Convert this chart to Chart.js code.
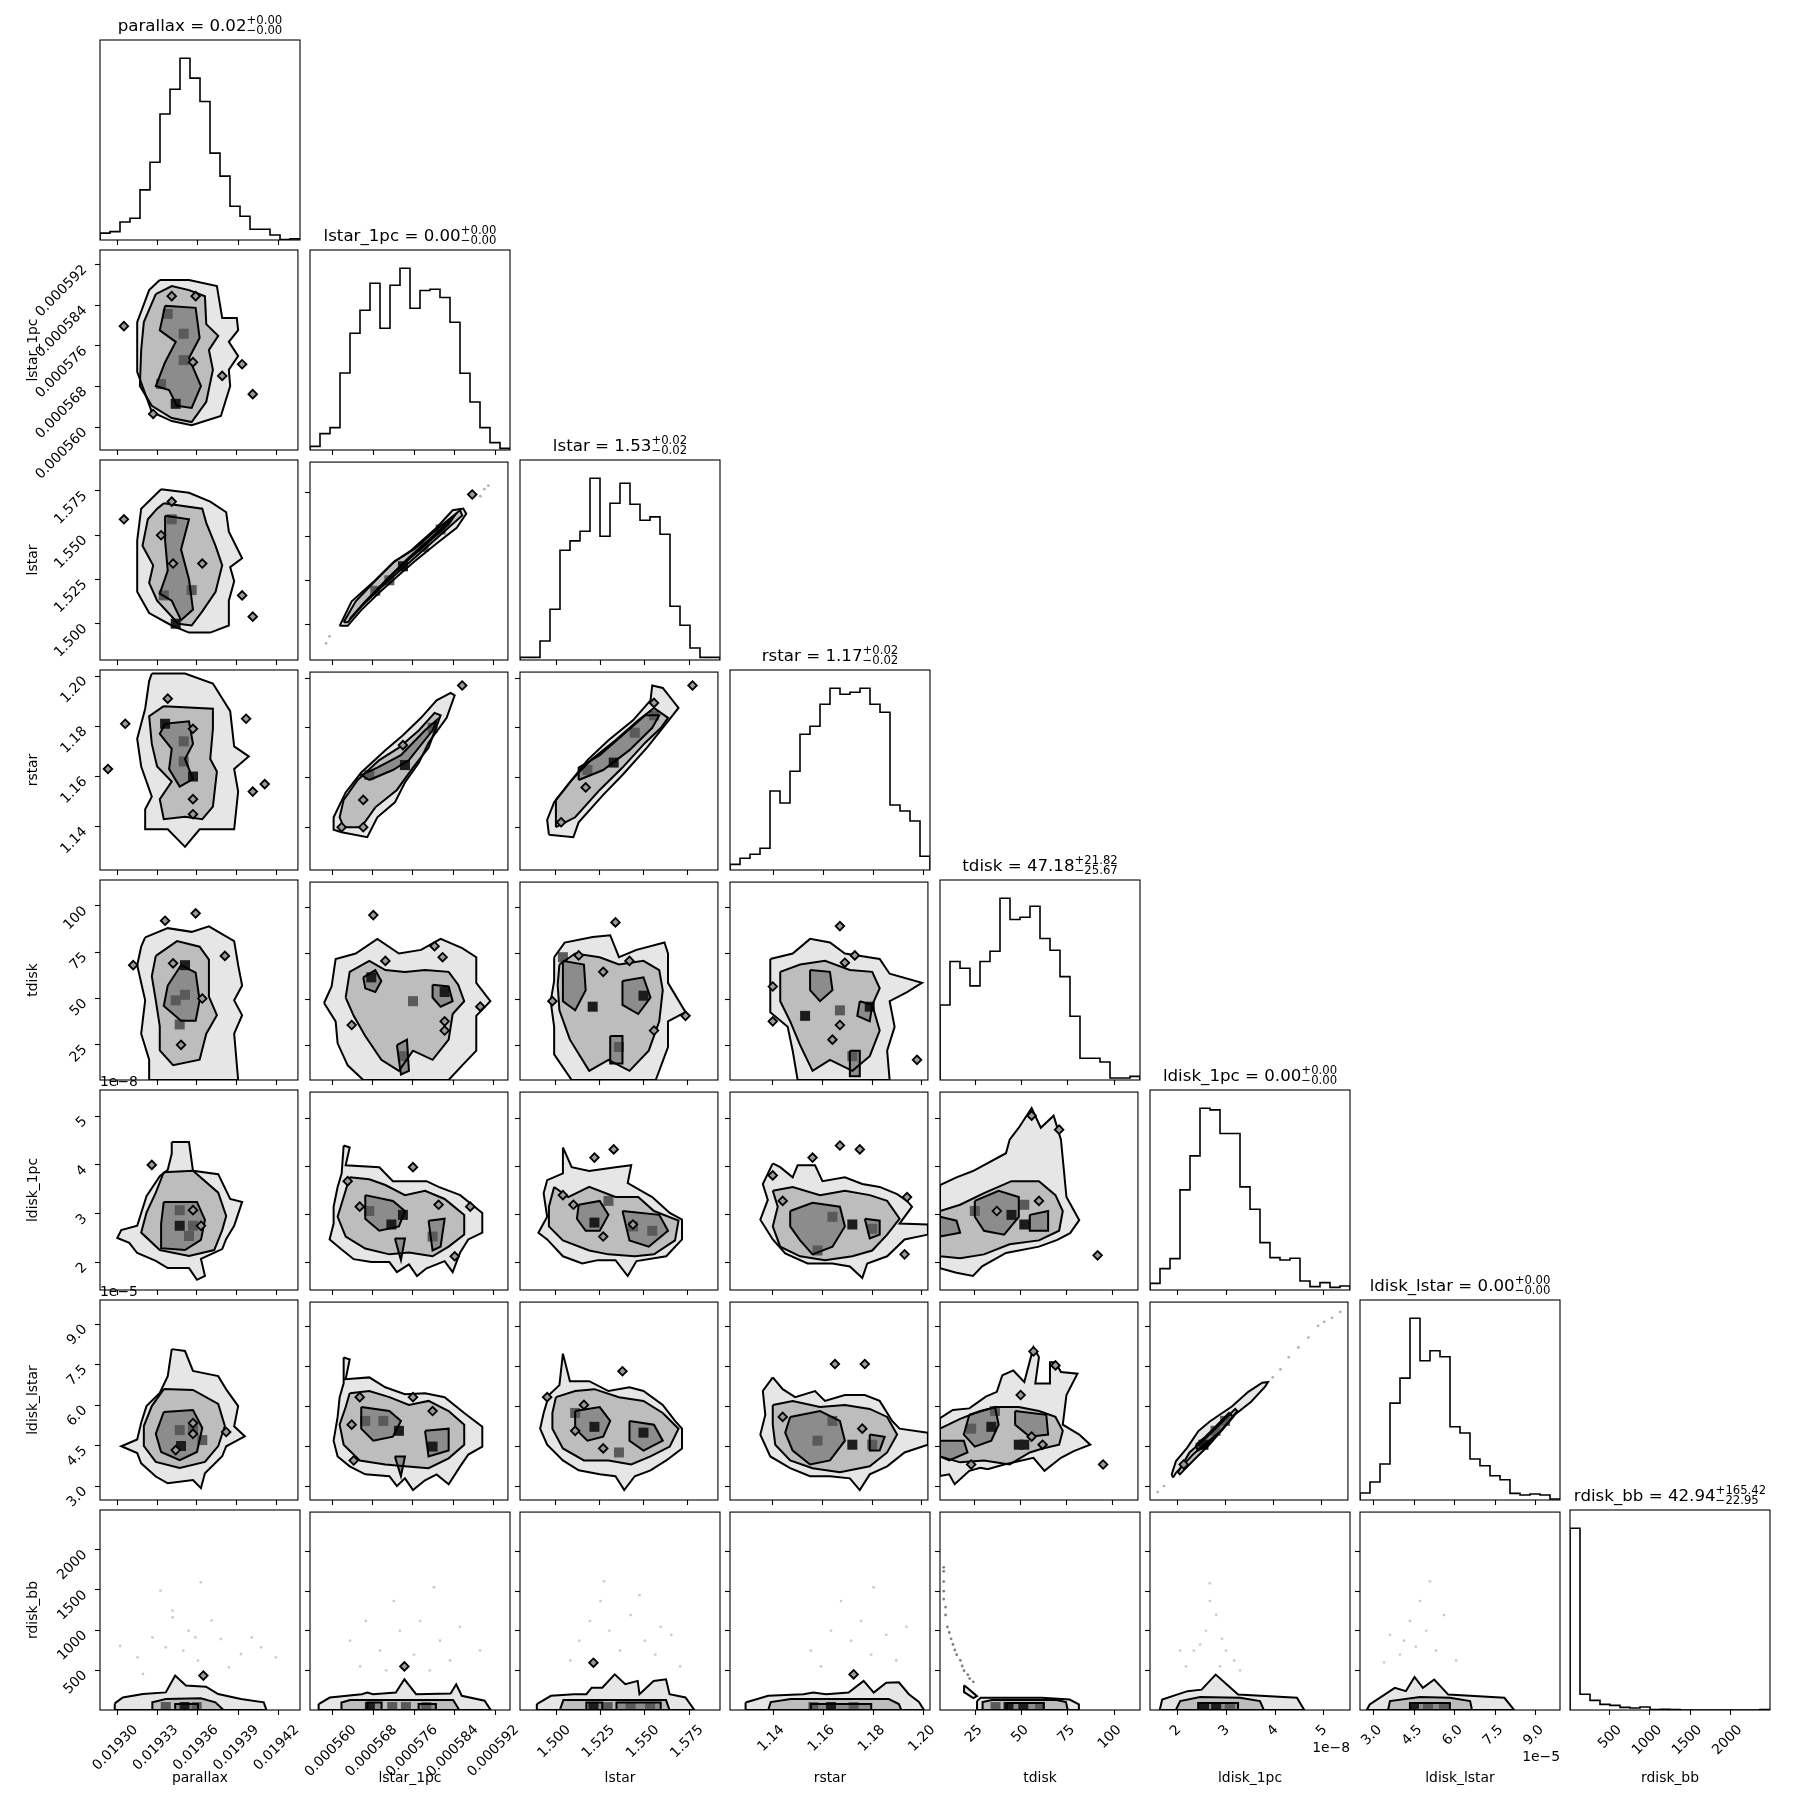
<!DOCTYPE html>
<html><head><meta charset="utf-8">
<script src="https://cdn.jsdelivr.net/npm/chart.js@4.4.1/dist/chart.umd.min.js"></script>
<style>
html,body{margin:0;padding:0;background:#fff;}
#fig{position:relative;width:1809px;height:1809px;overflow:hidden;background:#fff;font-family:'DejaVu Sans',sans-serif;color:#000;}
#fig canvas{position:absolute;}
.ttl{position:absolute;white-space:nowrap;font-size:16.67px;line-height:20px;transform:translateX(-50%);}
.ss{position:relative;font-size:11.67px;}
.sup{position:relative;top:-6.7px;}
.sub{position:absolute;left:0;top:3.6px;line-height:normal;}
.off{position:absolute;white-space:nowrap;font-size:13.9px;line-height:16px;}
</style></head><body><div id="fig"></div>
<script>
// ---------------- DATA ----------------
const variables = ['parallax','lstar_1pc','lstar','rstar','tdisk','ldisk_1pc','ldisk_lstar','rdisk_bb'];
const axisMin = [0.019287, 5.555e-4, 1.4795, 1.1228, 6, 1.43e-8, 2.49e-5, 5];
const axisMax = [0.019436, 5.949e-4, 1.5925, 1.2024, 114, 5.54e-8, 9.90e-5, 2495];
const tickValues = [
  [0.0193, 0.01933, 0.01936, 0.01939, 0.01942],
  [0.00056, 0.000568, 0.000576, 0.000584, 0.000592],
  [1.5, 1.525, 1.55, 1.575],
  [1.14, 1.16, 1.18, 1.20],
  [25, 50, 75, 100],
  [2e-8, 3e-8, 4e-8, 5e-8],
  [3e-5, 4.5e-5, 6e-5, 7.5e-5, 9e-5],
  [500, 1000, 1500, 2000]
];
const tickLabels = [
  ['0.01930','0.01933','0.01936','0.01939','0.01942'],
  ['0.000560','0.000568','0.000576','0.000584','0.000592'],
  ['1.500','1.525','1.550','1.575'],
  ['1.14','1.16','1.18','1.20'],
  ['25','50','75','100'],
  ['2','3','4','5'],
  ['3.0','4.5','6.0','7.5','9.0'],
  ['500','1000','1500','2000']
];
const offsetLabels = ['', '', '', '', '', '1e\u22128', '1e\u22125', ''];
const titleCentral = ['0.02','0.00','1.53','1.17','47.18','0.00','0.00','42.94'];
const titlePlus   = ['0.00','0.00','0.02','0.02','21.82','0.00','0.00','165.42'];
const titleMinus  = ['0.00','0.00','0.02','0.02','25.67','0.00','0.00','22.95'];

// histogram counts (20 bins over each axis range)
const histParallax   = [18,22,47,57,131,203,329,394,475,423,362,227,167,88,62,28,28,13,1,3];
const histLstar1pc   = [11,49,67,231,350,419,500,365,494,545,425,478,482,457,383,230,144,67,22,5];
const histLstar      = [8,8,57,152,329,357,386,545,371,470,530,467,419,429,377,161,104,36,8,8];
const histRstar      = [17,35,47,65,237,201,296,407,431,497,545,527,533,545,497,473,195,177,147,41];
const histTdisk      = [225,355,335,282,355,386,545,481,488,521,424,389,310,191,65,65,54,6,6,11];
const histLdisk1pc   = [20,64,94,300,402,545,540,469,469,309,242,142,97,90,95,27,10,22,8,12];
const histLdiskLstar = [21,54,108,291,366,546,418,448,430,220,201,123,103,73,61,20,15,18,15,3];
const histRdiskBB    = [545,47,29,17,14,8,6,9,1,2,1,0,0,0,0,0,0,0,0,1];
const histCounts = [histParallax,histLstar1pc,histLstar,histRstar,histTdisk,histLdisk1pc,histLdiskLstar,histRdiskBB];

// 2D panels: contour polygons (outer / middle / inner level), dense cells [x,y,shade], small contour islands, sample dots
const panel_1_0 = {
  outer:[[0.019332,5.890e-4],[0.019354,5.890e-4],[0.019375,5.878e-4],[0.019379,5.815e-4],[0.019390,5.815e-4],[0.019391,5.791e-4],[0.019384,5.768e-4],[0.019391,5.740e-4],[0.019384,5.713e-4],[0.019385,5.681e-4],[0.019378,5.622e-4],[0.019356,5.604e-4],[0.019341,5.612e-4],[0.019326,5.630e-4],[0.019315,5.709e-4],[0.019315,5.760e-4],[0.019315,5.807e-4],[0.019324,5.870e-4]],
  mid:[[0.019329,5.862e-4],[0.019341,5.878e-4],[0.019354,5.870e-4],[0.019366,5.858e-4],[0.019367,5.803e-4],[0.019376,5.780e-4],[0.019369,5.752e-4],[0.019372,5.713e-4],[0.019367,5.650e-4],[0.019356,5.610e-4],[0.019341,5.618e-4],[0.019326,5.642e-4],[0.019317,5.681e-4],[0.019318,5.752e-4],[0.019320,5.807e-4]],
  inner:[[0.019336,5.839e-4],[0.019359,5.835e-4],[0.019362,5.776e-4],[0.019354,5.736e-4],[0.019363,5.681e-4],[0.019356,5.638e-4],[0.019345,5.642e-4],[0.019339,5.673e-4],[0.019329,5.681e-4],[0.019336,5.728e-4],[0.019344,5.768e-4],[0.019332,5.791e-4]],
  cells:[[0.019338,5.823e-4,1],[0.019344,5.646e-4,0],[0.019333,5.685e-4,1],[0.019350,5.784e-4,1],[0.019350,5.732e-4,1]],
  islands:[[0.019305,5.799e-4],[0.019394,5.724e-4],[0.019379,5.701e-4],[0.019402,5.665e-4],[0.019327,5.626e-4],[0.019341,5.858e-4],[0.019359,5.858e-4],[0.019357,5.728e-4]],
  dots:[]
};
const panel_2_0 = {
  outer:[[0.019333,1.576],[0.019354,1.574],[0.019370,1.569],[0.019382,1.563],[0.019384,1.552],[0.019394,1.537],[0.019385,1.532],[0.019388,1.524],[0.019384,1.513],[0.019384,1.499],[0.019370,1.495],[0.019354,1.495],[0.019341,1.499],[0.019324,1.506],[0.019315,1.518],[0.019315,1.533],[0.019315,1.547],[0.019318,1.565]],
  mid:[[0.019335,1.568],[0.019364,1.565],[0.019367,1.557],[0.019374,1.544],[0.019379,1.533],[0.019374,1.518],[0.019364,1.507],[0.019356,1.499],[0.019346,1.500],[0.019330,1.513],[0.019324,1.523],[0.019327,1.533],[0.019319,1.544],[0.019323,1.559],[0.019330,1.565]],
  inner:[[0.019336,1.561],[0.019354,1.559],[0.019348,1.542],[0.019354,1.525],[0.019357,1.508],[0.019348,1.502],[0.019341,1.513],[0.019332,1.517],[0.019338,1.530],[0.019336,1.547]],
  cells:[[0.019341,1.559,1],[0.019344,1.500,0],[0.019335,1.516,1],[0.019356,1.519,1]],
  islands:[[0.019305,1.559],[0.019341,1.569],[0.019333,1.550],[0.019342,1.534],[0.019364,1.534],[0.019394,1.516],[0.019402,1.504]],
  dots:[]
};
const panel_2_1 = {
  outer:[[5.614e-4,1.499],[5.638e-4,1.513],[5.685e-4,1.525],[5.720e-4,1.535],[5.756e-4,1.542],[5.807e-4,1.555],[5.839e-4,1.565],[5.860e-4,1.566],[5.866e-4,1.563],[5.847e-4,1.555],[5.807e-4,1.546],[5.764e-4,1.536],[5.728e-4,1.527],[5.693e-4,1.518],[5.657e-4,1.508],[5.630e-4,1.499]],
  mid:[[5.622e-4,1.501],[5.646e-4,1.513],[5.689e-4,1.526],[5.724e-4,1.536],[5.764e-4,1.543],[5.811e-4,1.555],[5.854e-4,1.565],[5.858e-4,1.562],[5.811e-4,1.550],[5.764e-4,1.538],[5.728e-4,1.529],[5.693e-4,1.520],[5.657e-4,1.510],[5.630e-4,1.501]],
  inner:[[5.634e-4,1.503],[5.665e-4,1.513],[5.713e-4,1.527],[5.752e-4,1.538],[5.799e-4,1.550],[5.843e-4,1.562],[5.831e-4,1.557],[5.784e-4,1.545],[5.736e-4,1.533],[5.689e-4,1.520],[5.650e-4,1.508]],
  cells:[[5.740e-4,1.533,0],[5.781e-4,1.544,1],[5.815e-4,1.554,1],[5.713e-4,1.525,1],[5.685e-4,1.519,1]],
  islands:[[5.878e-4,1.574]],
  dots:[[5.587e-4,1.489],[5.594e-4,1.493],[5.894e-4,1.573],[5.902e-4,1.577],[5.910e-4,1.579]]
};
const panel_3_0 = {
  outer:[[0.019326,1.201],[0.019351,1.201],[0.019372,1.197],[0.019385,1.186],[0.019388,1.172],[0.019399,1.168],[0.019388,1.163],[0.019391,1.154],[0.019388,1.139],[0.019362,1.139],[0.019351,1.132],[0.019338,1.139],[0.019321,1.139],[0.019321,1.147],[0.019326,1.152],[0.019318,1.164],[0.019315,1.175],[0.019321,1.187],[0.019324,1.198]],
  mid:[[0.019335,1.188],[0.019372,1.187],[0.019372,1.179],[0.019370,1.167],[0.019375,1.162],[0.019372,1.148],[0.019364,1.143],[0.019351,1.144],[0.019335,1.143],[0.019332,1.151],[0.019341,1.158],[0.019330,1.164],[0.019326,1.173],[0.019324,1.184]],
  inner:[[0.019336,1.181],[0.019354,1.182],[0.019357,1.173],[0.019351,1.167],[0.019357,1.159],[0.019347,1.156],[0.019339,1.163],[0.019341,1.171],[0.019332,1.177]],
  cells:[[0.019336,1.181,0],[0.019357,1.160,0],[0.019350,1.166,1],[0.019350,1.174,1]],
  islands:[[0.019306,1.181],[0.019293,1.163],[0.019397,1.183],[0.019411,1.157],[0.019402,1.154],[0.019338,1.191],[0.019357,1.145],[0.019357,1.179],[0.019357,1.151]],
  dots:[]
};
const panel_3_1 = {
  outer:[[5.618e-4,1.138],[5.669e-4,1.136],[5.689e-4,1.144],[5.724e-4,1.150],[5.744e-4,1.158],[5.772e-4,1.166],[5.791e-4,1.174],[5.827e-4,1.184],[5.843e-4,1.193],[5.835e-4,1.194],[5.807e-4,1.191],[5.776e-4,1.184],[5.740e-4,1.177],[5.705e-4,1.171],[5.657e-4,1.162],[5.626e-4,1.154],[5.602e-4,1.144],[5.602e-4,1.139]],
  mid:[[5.622e-4,1.140],[5.657e-4,1.140],[5.685e-4,1.148],[5.728e-4,1.155],[5.760e-4,1.164],[5.791e-4,1.172],[5.815e-4,1.185],[5.803e-4,1.186],[5.772e-4,1.179],[5.732e-4,1.172],[5.693e-4,1.167],[5.650e-4,1.159],[5.622e-4,1.151],[5.614e-4,1.144]],
  inner:[[5.673e-4,1.159],[5.720e-4,1.163],[5.752e-4,1.167],[5.799e-4,1.179],[5.807e-4,1.183],[5.784e-4,1.179],[5.736e-4,1.169],[5.689e-4,1.164],[5.657e-4,1.161]],
  cells:[[5.744e-4,1.165,0],[5.673e-4,1.161,1],[5.799e-4,1.180,1]],
  islands:[[5.661e-4,1.151],[5.618e-4,1.140],[5.661e-4,1.140],[5.858e-4,1.197],[5.740e-4,1.173]],
  dots:[]
};
const panel_3_2 = {
  outer:[[1.496,1.137],[1.510,1.136],[1.513,1.142],[1.527,1.153],[1.538,1.161],[1.552,1.172],[1.561,1.180],[1.570,1.188],[1.561,1.196],[1.555,1.197],[1.554,1.191],[1.544,1.183],[1.530,1.175],[1.518,1.167],[1.508,1.158],[1.499,1.150],[1.495,1.143]],
  mid:[[1.500,1.140],[1.511,1.144],[1.525,1.155],[1.538,1.164],[1.551,1.174],[1.560,1.180],[1.564,1.184],[1.556,1.188],[1.547,1.183],[1.534,1.175],[1.520,1.167],[1.509,1.159],[1.500,1.151]],
  inner:[[1.513,1.159],[1.527,1.163],[1.542,1.171],[1.555,1.180],[1.559,1.185],[1.551,1.185],[1.538,1.177],[1.525,1.169],[1.513,1.164]],
  cells:[[1.533,1.166,0],[1.556,1.185,1],[1.518,1.163,1],[1.545,1.178,1]],
  islands:[[1.578,1.197],[1.503,1.142],[1.517,1.156],[1.556,1.190]],
  dots:[]
};
const panel_4_0 = {
  outer:[[0.019321,83],[0.019338,88],[0.019356,86],[0.019369,89],[0.019388,81],[0.019391,68],[0.019394,57],[0.019388,49],[0.019394,41],[0.019388,31],[0.019391,6],[0.019324,6],[0.019324,17],[0.019318,31],[0.019321,49],[0.019315,68],[0.019318,78]],
  mid:[[0.019329,73],[0.019345,81],[0.019362,78],[0.019369,71],[0.019369,51],[0.019375,41],[0.019367,31],[0.019362,17],[0.019342,14],[0.019332,22],[0.019332,35],[0.019329,49],[0.019326,62]],
  inner:[[0.019348,68],[0.019359,64],[0.019362,49],[0.019359,38],[0.019348,38],[0.019335,46],[0.019338,57]],
  cells:[[0.019351,68,0],[0.019351,52,1],[0.019344,49,1],[0.019347,36,1]],
  islands:[[0.019336,92],[0.019359,96],[0.019312,68],[0.019381,73],[0.019364,50],[0.019348,25],[0.019342,69]],
  dots:[]
};
const panel_4_1 = {
  outer:[[5.583e-4,48],[5.598e-4,57],[5.606e-4,72],[5.646e-4,75],[5.689e-4,83],[5.732e-4,75],[5.776e-4,77],[5.815e-4,83],[5.858e-4,78],[5.886e-4,73],[5.886e-4,59],[5.914e-4,49],[5.886e-4,41],[5.886e-4,22],[5.858e-4,14],[5.831e-4,6],[5.661e-4,6],[5.630e-4,14],[5.610e-4,26],[5.606e-4,38]],
  mid:[[5.626e-4,51],[5.634e-4,65],[5.673e-4,71],[5.705e-4,66],[5.744e-4,65],[5.784e-4,66],[5.831e-4,65],[5.850e-4,58],[5.862e-4,49],[5.839e-4,42],[5.831e-4,28],[5.799e-4,17],[5.760e-4,22],[5.732e-4,11],[5.697e-4,17],[5.665e-4,30],[5.642e-4,41]],
  inner:[[[5.661e-4,62],[5.685e-4,66],[5.697e-4,60],[5.685e-4,54],[5.665e-4,56]],[[5.799e-4,58],[5.831e-4,57],[5.839e-4,49],[5.815e-4,46],[5.799e-4,51]],[[5.728e-4,25],[5.748e-4,28],[5.752e-4,11],[5.736e-4,9]]],
  cells:[[5.677e-4,62,0],[5.823e-4,54,0],[5.740e-4,19,1],[5.760e-4,49,1]],
  islands:[[5.681e-4,96],[5.803e-4,79],[5.819e-4,73],[5.705e-4,71],[5.894e-4,46],[5.638e-4,36],[5.823e-4,38],[5.823e-4,33]],
  dots:[]
};
const panel_4_2 = {
  outer:[[1.499,73],[1.505,81],[1.521,84],[1.531,85],[1.536,73],[1.546,77],[1.562,81],[1.564,75],[1.564,59],[1.574,43],[1.564,38],[1.564,24],[1.557,6],[1.509,6],[1.499,20],[1.499,35],[1.497,49],[1.499,60]],
  mid:[[1.502,69],[1.511,75],[1.525,73],[1.536,69],[1.550,71],[1.559,66],[1.561,55],[1.559,38],[1.553,22],[1.542,11],[1.530,17],[1.519,11],[1.508,28],[1.502,44],[1.501,58]],
  inner:[[[1.504,71],[1.516,69],[1.517,55],[1.511,44],[1.504,49]],[[1.538,60],[1.550,62],[1.554,51],[1.547,42],[1.538,47]],[[1.531,30],[1.538,30],[1.538,15],[1.531,15]]],
  cells:[[1.521,46,0],[1.550,52,0],[1.504,73,1],[1.536,24,1]],
  islands:[[1.498,49],[1.534,92],[1.574,41],[1.513,74],[1.542,71],[1.527,65],[1.556,33]],
  dots:[]
};
const panel_4_3 = {
  outer:[[1.139,72],[1.148,75],[1.155,83],[1.163,81],[1.169,75],[1.183,72],[1.187,64],[1.200,59],[1.194,54],[1.187,49],[1.189,35],[1.186,22],[1.187,6],[1.150,6],[1.148,22],[1.146,35],[1.139,43],[1.139,57]],
  mid:[[1.143,65],[1.151,69],[1.161,71],[1.171,66],[1.180,65],[1.183,56],[1.180,47],[1.183,33],[1.179,19],[1.172,11],[1.163,17],[1.156,11],[1.151,25],[1.147,38],[1.143,49]],
  inner:[[[1.155,66],[1.163,65],[1.164,55],[1.159,49],[1.155,55]],[[1.175,49],[1.180,47],[1.179,38],[1.174,41]],[[1.171,22],[1.175,22],[1.175,8],[1.171,8]]],
  cells:[[1.153,41,0],[1.179,46,0],[1.167,44,1],[1.172,19,1]],
  islands:[[1.167,90],[1.140,57],[1.140,38],[1.173,74],[1.169,70],[1.198,17],[1.167,36],[1.164,28]],
  dots:[]
};
const panel_5_0 = {
  outer:[[0.019341,4.47e-8],[0.019354,4.47e-8],[0.019357,3.88e-8],[0.019376,3.81e-8],[0.019385,3.30e-8],[0.019394,3.24e-8],[0.019388,2.75e-8],[0.019382,2.48e-8],[0.019379,2.27e-8],[0.019363,2.07e-8],[0.019366,1.72e-8],[0.019360,1.64e-8],[0.019354,1.88e-8],[0.019338,1.88e-8],[0.019329,2.03e-8],[0.019315,2.19e-8],[0.019309,2.40e-8],[0.019300,2.50e-8],[0.019303,2.66e-8],[0.019315,2.75e-8],[0.019322,3.36e-8],[0.019332,3.77e-8],[0.019338,3.90e-8],[0.019341,4.23e-8]],
  mid:[[0.019335,3.85e-8],[0.019357,3.88e-8],[0.019376,3.43e-8],[0.019382,2.95e-8],[0.019379,2.66e-8],[0.019373,2.25e-8],[0.019354,2.13e-8],[0.019332,2.25e-8],[0.019318,2.61e-8],[0.019322,3.02e-8],[0.019329,3.43e-8]],
  inner:[[0.019335,3.24e-8],[0.019360,3.24e-8],[0.019366,2.87e-8],[0.019363,2.46e-8],[0.019351,2.25e-8],[0.019333,2.29e-8],[0.019333,2.79e-8]],
  cells:[[0.019347,2.75e-8,0],[0.019357,2.75e-8,1],[0.019347,3.07e-8,1],[0.019354,2.54e-8,1]],
  islands:[[0.019326,4.00e-8],[0.019357,3.07e-8],[0.019363,2.75e-8]],
  dots:[]
};
const panel_5_1 = {
  outer:[[5.622e-4,4.43e-8],[5.634e-4,4.39e-8],[5.626e-4,4.02e-8],[5.693e-4,3.98e-8],[5.720e-4,3.69e-8],[5.787e-4,3.69e-8],[5.811e-4,3.57e-8],[5.854e-4,3.40e-8],[5.898e-4,3.03e-8],[5.898e-4,2.62e-8],[5.870e-4,2.48e-8],[5.854e-4,2.21e-8],[5.839e-4,1.80e-8],[5.823e-4,2.03e-8],[5.787e-4,1.88e-8],[5.768e-4,1.72e-8],[5.752e-4,1.96e-8],[5.728e-4,1.80e-8],[5.713e-4,2.01e-8],[5.677e-4,2.01e-8],[5.642e-4,2.07e-8],[5.618e-4,2.27e-8],[5.594e-4,2.48e-8],[5.602e-4,2.81e-8],[5.602e-4,3.16e-8],[5.610e-4,3.57e-8],[5.618e-4,3.85e-8]],
  mid:[[5.634e-4,3.77e-8],[5.673e-4,3.73e-8],[5.705e-4,3.61e-8],[5.744e-4,3.40e-8],[5.784e-4,3.49e-8],[5.823e-4,3.32e-8],[5.862e-4,2.99e-8],[5.862e-4,2.58e-8],[5.831e-4,2.33e-8],[5.799e-4,2.13e-8],[5.752e-4,2.21e-8],[5.713e-4,2.17e-8],[5.665e-4,2.29e-8],[5.626e-4,2.54e-8],[5.610e-4,2.95e-8],[5.622e-4,3.36e-8]],
  inner:[[[5.665e-4,3.40e-8],[5.720e-4,3.28e-8],[5.744e-4,3.07e-8],[5.732e-4,2.75e-8],[5.693e-4,2.66e-8],[5.665e-4,2.91e-8]],[[5.791e-4,2.87e-8],[5.823e-4,2.91e-8],[5.815e-4,2.33e-8],[5.799e-4,2.25e-8]],[[5.724e-4,2.50e-8],[5.744e-4,2.50e-8],[5.736e-4,2.05e-8]]],
  cells:[[5.740e-4,2.99e-8,0],[5.717e-4,2.79e-8,0],[5.799e-4,2.54e-8,1],[5.673e-4,3.07e-8,1]],
  islands:[[5.630e-4,3.69e-8],[5.760e-4,3.98e-8],[5.874e-4,3.16e-8],[5.811e-4,3.20e-8],[5.654e-4,3.16e-8],[5.843e-4,2.13e-8]],
  dots:[]
};
const panel_5_2 = {
  outer:[[1.504,4.39e-8],[1.509,3.98e-8],[1.519,3.90e-8],[1.534,3.98e-8],[1.543,4.02e-8],[1.541,3.65e-8],[1.551,3.44e-8],[1.555,3.36e-8],[1.565,3.03e-8],[1.572,2.89e-8],[1.572,2.48e-8],[1.563,2.13e-8],[1.546,2.03e-8],[1.541,1.72e-8],[1.534,2.05e-8],[1.524,2.05e-8],[1.515,1.98e-8],[1.504,2.13e-8],[1.495,2.48e-8],[1.490,2.62e-8],[1.495,2.95e-8],[1.493,3.44e-8],[1.495,3.71e-8],[1.504,3.85e-8]],
  mid:[[1.499,3.57e-8],[1.507,3.36e-8],[1.519,3.57e-8],[1.534,3.36e-8],[1.547,3.36e-8],[1.556,3.07e-8],[1.570,2.87e-8],[1.568,2.46e-8],[1.556,2.17e-8],[1.545,2.13e-8],[1.530,2.17e-8],[1.519,2.25e-8],[1.504,2.46e-8],[1.496,2.75e-8],[1.496,3.16e-8]],
  inner:[[[1.513,3.20e-8],[1.525,3.28e-8],[1.530,2.99e-8],[1.525,2.66e-8],[1.517,2.66e-8],[1.512,2.91e-8]],[[1.538,3.07e-8],[1.559,2.99e-8],[1.564,2.66e-8],[1.553,2.33e-8],[1.542,2.46e-8]]],
  cells:[[1.522,2.83e-8,0],[1.555,2.66e-8,1],[1.544,2.75e-8,1],[1.530,3.28e-8,1]],
  islands:[[1.504,3.40e-8],[1.522,4.18e-8],[1.533,4.35e-8],[1.544,2.79e-8],[1.527,2.54e-8],[1.510,3.20e-8]],
  dots:[]
};
const panel_5_3 = {
  outer:[[1.140,4.06e-8],[1.143,3.98e-8],[1.148,3.77e-8],[1.150,4.02e-8],[1.157,4.02e-8],[1.160,3.69e-8],[1.169,3.77e-8],[1.176,3.63e-8],[1.183,3.57e-8],[1.190,3.42e-8],[1.194,3.28e-8],[1.196,3.16e-8],[1.191,2.81e-8],[1.2024,2.79e-8],[1.2024,2.58e-8],[1.193,2.48e-8],[1.186,2.13e-8],[1.178,1.98e-8],[1.176,1.68e-8],[1.171,1.92e-8],[1.164,1.98e-8],[1.154,1.98e-8],[1.145,2.19e-8],[1.140,2.48e-8],[1.135,2.89e-8],[1.138,3.30e-8],[1.136,3.63e-8]],
  mid:[[1.140,3.49e-8],[1.148,3.57e-8],[1.159,3.40e-8],[1.169,3.49e-8],[1.179,3.40e-8],[1.186,3.28e-8],[1.191,2.91e-8],[1.186,2.58e-8],[1.180,2.25e-8],[1.172,2.13e-8],[1.161,2.05e-8],[1.151,2.13e-8],[1.143,2.33e-8],[1.140,2.75e-8],[1.142,3.16e-8]],
  inner:[[[1.147,3.07e-8],[1.156,3.24e-8],[1.167,3.16e-8],[1.169,2.75e-8],[1.164,2.33e-8],[1.156,2.17e-8],[1.151,2.46e-8],[1.147,2.75e-8]],[[1.177,2.91e-8],[1.183,2.87e-8],[1.183,2.58e-8],[1.179,2.50e-8]]],
  cells:[[1.172,2.79e-8,0],[1.164,2.95e-8,1],[1.180,2.70e-8,1],[1.158,2.25e-8,1]],
  islands:[[1.140,3.81e-8],[1.167,4.43e-8],[1.175,4.35e-8],[1.156,4.18e-8],[1.144,3.28e-8],[1.194,3.36e-8],[1.193,2.17e-8]],
  dots:[]
};
const panel_5_4 = {
  outer:[[6,3.61e-8],[15,3.77e-8],[24,3.90e-8],[42,4.27e-8],[44,4.55e-8],[49,4.80e-8],[56,5.21e-8],[61,4.80e-8],[68,5.05e-8],[72,4.55e-8],[75,3.36e-8],[82,2.88e-8],[77,2.61e-8],[70,2.47e-8],[60,2.33e-8],[42,2.20e-8],[29,1.92e-8],[24,1.72e-8],[15,1.79e-8],[6,1.88e-8]],
  mid:[[6,3.07e-8],[17,3.20e-8],[30,3.44e-8],[45,3.69e-8],[60,3.69e-8],[69,3.40e-8],[73,3.07e-8],[71,2.66e-8],[60,2.46e-8],[44,2.38e-8],[30,2.17e-8],[17,2.09e-8],[6,2.13e-8]],
  inner:[[[25,3.28e-8],[38,3.49e-8],[49,3.36e-8],[49,2.95e-8],[41,2.58e-8],[30,2.66e-8],[25,2.95e-8]],[[6,2.95e-8],[15,2.87e-8],[17,2.62e-8],[6,2.54e-8]],[[55,2.99e-8],[65,3.07e-8],[65,2.66e-8],[55,2.66e-8]]],
  cells:[[45,2.99e-8,0],[52,3.20e-8,1],[52,2.79e-8,0],[25,3.07e-8,1]],
  islands:[[56,5.05e-8],[71,4.76e-8],[92,2.15e-8],[37,3.07e-8],[60,3.28e-8]],
  dots:[]
};
const panel_6_0 = {
  outer:[[0.019341,8.08e-5],[0.019351,8.01e-5],[0.019357,7.27e-5],[0.019376,7.08e-5],[0.019382,6.59e-5],[0.019391,5.97e-5],[0.019388,5.22e-5],[0.019396,4.85e-5],[0.019382,4.48e-5],[0.019379,4.11e-5],[0.019366,3.48e-5],[0.019363,2.93e-5],[0.019357,3.23e-5],[0.019338,3.11e-5],[0.019329,3.36e-5],[0.019318,3.85e-5],[0.019315,4.23e-5],[0.019303,4.48e-5],[0.019315,4.73e-5],[0.019318,5.35e-5],[0.019322,5.97e-5],[0.019332,6.46e-5],[0.019338,7.08e-5]],
  mid:[[0.019335,6.60e-5],[0.019357,6.57e-5],[0.019376,6.05e-5],[0.019381,5.23e-5],[0.019376,4.49e-5],[0.019366,3.90e-5],[0.019347,3.68e-5],[0.019329,3.90e-5],[0.019320,4.49e-5],[0.019320,5.23e-5],[0.019326,5.97e-5]],
  inner:[[0.019335,5.75e-5],[0.019357,5.82e-5],[0.019364,5.16e-5],[0.019360,4.27e-5],[0.019347,3.97e-5],[0.019333,4.27e-5],[0.019329,4.94e-5]],
  cells:[[0.019348,4.49e-5,0],[0.019357,5.16e-5,1],[0.019347,5.08e-5,1],[0.019364,4.71e-5,1]],
  islands:[[0.019357,5.34e-5],[0.019357,4.94e-5],[0.019344,4.34e-5],[0.019382,5.01e-5]],
  dots:[]
};
const panel_6_1 = {
  outer:[[5.622e-4,7.83e-5],[5.634e-4,7.75e-5],[5.626e-4,7.01e-5],[5.673e-4,7.08e-5],[5.705e-4,6.71e-5],[5.744e-4,6.45e-5],[5.784e-4,6.49e-5],[5.823e-4,6.34e-5],[5.862e-4,5.75e-5],[5.898e-4,5.23e-5],[5.898e-4,4.49e-5],[5.870e-4,4.19e-5],[5.854e-4,3.75e-5],[5.831e-4,3.08e-5],[5.807e-4,3.45e-5],[5.784e-4,3.23e-5],[5.760e-4,2.86e-5],[5.744e-4,3.30e-5],[5.728e-4,3.01e-5],[5.713e-4,3.38e-5],[5.665e-4,3.45e-5],[5.634e-4,3.75e-5],[5.610e-4,4.12e-5],[5.602e-4,4.71e-5],[5.610e-4,5.60e-5],[5.614e-4,6.34e-5],[5.622e-4,6.86e-5]],
  mid:[[5.634e-4,6.49e-5],[5.673e-4,6.57e-5],[5.713e-4,6.34e-5],[5.752e-4,6.05e-5],[5.791e-4,6.20e-5],[5.831e-4,5.82e-5],[5.862e-4,5.31e-5],[5.862e-4,4.56e-5],[5.831e-4,4.05e-5],[5.791e-4,3.68e-5],[5.744e-4,3.75e-5],[5.705e-4,3.82e-5],[5.654e-4,3.97e-5],[5.622e-4,4.56e-5],[5.614e-4,5.31e-5],[5.626e-4,5.97e-5]],
  inner:[[[5.657e-4,5.97e-5],[5.713e-4,5.82e-5],[5.736e-4,5.45e-5],[5.720e-4,4.86e-5],[5.681e-4,4.71e-5],[5.657e-4,5.16e-5]],[[5.784e-4,5.08e-5],[5.831e-4,5.16e-5],[5.831e-4,4.34e-5],[5.791e-4,4.12e-5]],[[5.724e-4,4.12e-5],[5.744e-4,4.12e-5],[5.736e-4,3.38e-5]]],
  cells:[[5.732e-4,5.08e-5,0],[5.799e-4,4.49e-5,0],[5.701e-4,5.45e-5,1],[5.665e-4,5.45e-5,1]],
  islands:[[5.654e-4,6.34e-5],[5.760e-4,6.34e-5],[5.799e-4,5.82e-5],[5.642e-4,3.97e-5],[5.638e-4,5.31e-5]],
  dots:[]
};
const panel_6_2 = {
  outer:[[1.504,7.97e-5],[1.508,6.94e-5],[1.519,6.94e-5],[1.530,6.57e-5],[1.542,6.71e-5],[1.550,6.57e-5],[1.561,6.05e-5],[1.568,5.45e-5],[1.572,5.16e-5],[1.572,4.42e-5],[1.563,3.97e-5],[1.554,3.60e-5],[1.545,3.38e-5],[1.539,2.86e-5],[1.534,3.38e-5],[1.525,3.45e-5],[1.513,3.60e-5],[1.504,3.97e-5],[1.495,4.56e-5],[1.491,5.16e-5],[1.493,5.75e-5],[1.496,6.42e-5],[1.502,6.79e-5]],
  mid:[[1.500,6.34e-5],[1.511,6.57e-5],[1.522,6.64e-5],[1.536,6.34e-5],[1.550,6.20e-5],[1.561,5.75e-5],[1.570,5.16e-5],[1.565,4.49e-5],[1.554,4.12e-5],[1.543,3.82e-5],[1.530,3.97e-5],[1.516,3.97e-5],[1.504,4.42e-5],[1.498,5.16e-5],[1.498,5.75e-5]],
  inner:[[[1.511,5.82e-5],[1.525,5.97e-5],[1.531,5.45e-5],[1.527,4.86e-5],[1.518,4.71e-5],[1.511,5.16e-5]],[[1.542,5.45e-5],[1.556,5.31e-5],[1.561,4.71e-5],[1.550,4.34e-5],[1.542,4.71e-5]]],
  cells:[[1.522,5.23e-5,0],[1.550,5.01e-5,0],[1.511,5.75e-5,1],[1.536,4.27e-5,1]],
  islands:[[1.538,7.31e-5],[1.495,6.34e-5],[1.516,6.05e-5],[1.511,5.08e-5],[1.527,4.42e-5]],
  dots:[]
};
const panel_6_3 = {
  outer:[[1.140,7.08e-5],[1.144,6.64e-5],[1.149,6.34e-5],[1.157,6.57e-5],[1.161,6.20e-5],[1.169,6.42e-5],[1.177,6.42e-5],[1.183,6.20e-5],[1.188,5.45e-5],[1.191,5.16e-5],[1.2024,5.01e-5],[1.2024,4.56e-5],[1.193,4.27e-5],[1.186,3.75e-5],[1.179,3.45e-5],[1.175,2.86e-5],[1.171,3.30e-5],[1.163,3.38e-5],[1.155,3.38e-5],[1.147,3.68e-5],[1.139,4.12e-5],[1.135,4.94e-5],[1.137,5.68e-5],[1.136,6.57e-5]],
  mid:[[1.140,6.05e-5],[1.148,6.20e-5],[1.159,5.97e-5],[1.169,6.05e-5],[1.179,5.90e-5],[1.186,5.60e-5],[1.190,4.94e-5],[1.186,4.27e-5],[1.179,3.75e-5],[1.167,3.53e-5],[1.156,3.68e-5],[1.147,3.97e-5],[1.141,4.56e-5],[1.140,5.31e-5]],
  inner:[[[1.147,5.60e-5],[1.159,5.82e-5],[1.167,5.45e-5],[1.169,4.71e-5],[1.163,3.97e-5],[1.155,3.82e-5],[1.148,4.34e-5],[1.145,5.01e-5]],[[1.179,4.94e-5],[1.185,4.86e-5],[1.183,4.34e-5],[1.179,4.34e-5]]],
  cells:[[1.172,4.56e-5,0],[1.164,5.45e-5,1],[1.158,4.71e-5,1],[1.180,4.56e-5,1]],
  islands:[[1.165,7.58e-5],[1.177,7.58e-5],[1.144,5.60e-5],[1.176,5.16e-5]],
  dots:[]
};
const panel_6_4 = {
  outer:[[6,5.55e-5],[13,5.86e-5],[22,5.92e-5],[31,6.36e-5],[37,6.54e-5],[40,7.16e-5],[46,7.34e-5],[52,6.91e-5],[57,8.21e-5],[60,7.84e-5],[58,6.85e-5],[66,6.85e-5],[66,7.65e-5],[69,7.65e-5],[72,7.28e-5],[81,7.22e-5],[75,6.42e-5],[73,5.31e-5],[82,4.94e-5],[88,4.56e-5],[79,4.32e-5],[72,4.07e-5],[63,3.58e-5],[57,4.07e-5],[41,3.82e-5],[32,3.64e-5],[28,3.70e-5],[22,3.58e-5],[14,3.08e-5],[11,3.45e-5],[6,3.39e-5]],
  mid:[[6,5.16e-5],[17,5.53e-5],[28,5.82e-5],[37,5.97e-5],[49,5.97e-5],[60,5.82e-5],[69,5.60e-5],[73,5.08e-5],[71,4.56e-5],[62,4.42e-5],[55,4.27e-5],[44,3.82e-5],[30,3.97e-5],[17,3.90e-5],[6,4.12e-5]],
  inner:[[[22,5.68e-5],[36,5.97e-5],[38,5.31e-5],[34,4.71e-5],[25,4.49e-5],[19,4.94e-5]],[[47,5.82e-5],[64,5.68e-5],[65,4.94e-5],[55,4.86e-5],[47,5.31e-5]],[[6,4.71e-5],[19,4.71e-5],[21,4.27e-5],[11,3.97e-5],[6,4.12e-5]]],
  cells:[[34,5.23e-5,0],[49,4.56e-5,0],[52,4.56e-5,0],[23,5.16e-5,1],[36,5.82e-5,1]],
  islands:[[57,8.05e-5],[69,7.53e-5],[50,6.42e-5],[56,4.86e-5],[62,4.56e-5],[23,3.82e-5],[95,3.82e-5]],
  dots:[]
};
const panel_6_5 = {
  outer:[[1.91e-8,3.33e-5],[1.97e-8,3.51e-5],[2.32e-8,4.19e-5],[2.55e-8,4.56e-5],[2.90e-8,5.06e-5],[3.19e-8,5.68e-5],[3.53e-8,6.17e-5],[3.82e-8,6.73e-5],[3.88e-8,6.91e-5],[3.76e-8,6.88e-5],[3.47e-8,6.54e-5],[3.13e-8,5.99e-5],[2.67e-8,5.43e-5],[2.43e-8,5.06e-5],[2.20e-8,4.44e-5],[1.97e-8,3.95e-5],[1.88e-8,3.45e-5]],
  mid:[[2.01e-8,3.53e-5],[2.25e-8,4.27e-5],[2.58e-8,4.79e-5],[2.87e-8,5.31e-5],[3.20e-8,5.90e-5],[3.24e-8,5.82e-5],[2.95e-8,5.16e-5],[2.66e-8,4.56e-5],[2.33e-8,3.97e-5],[2.05e-8,3.45e-5]],
  inner:[[2.38e-8,4.56e-5],[2.58e-8,4.86e-5],[2.83e-8,5.31e-5],[3.07e-8,5.75e-5],[3.16e-8,5.60e-5],[2.87e-8,5.01e-5],[2.58e-8,4.49e-5],[2.42e-8,4.34e-5]],
  cells:[[2.54e-8,4.56e-5,0],[2.79e-8,5.08e-5,1],[2.99e-8,5.45e-5,1]],
  islands:[[2.13e-8,3.82e-5]],
  dots:[[3.98e-8,7.08e-5],[4.14e-8,7.38e-5],[4.31e-8,7.83e-5],[4.51e-8,8.20e-5],[4.72e-8,8.57e-5],[4.92e-8,9.01e-5],[5.05e-8,9.16e-5],[5.21e-8,9.31e-5],[5.38e-8,9.53e-5],[1.72e-8,3.01e-5],[1.59e-8,2.79e-5]]
};
const panel_7_0 = {
  outer:[[0.019298,87],[0.019304,162],[0.019319,204],[0.019336,224],[0.019343,433],[0.019351,309],[0.019366,296],[0.019375,204],[0.019392,142],[0.019409,100],[0.019411,5],[0.019298,5]],
  mid:[[0.019326,5],[0.019326,100],[0.019336,142],[0.019362,150],[0.019373,100],[0.019379,5]],
  inner:[[0.019343,5],[0.019343,80],[0.019360,80],[0.019360,5]],
  cells:[[0.019350,42,0],[0.019336,42,1],[0.019359,42,1]],
  islands:[[0.019364,433]],
  dots:[[0.019302,802],[0.019315,660],[0.019326,909],[0.019336,785],[0.019341,1158],[0.019349,744],[0.019358,909],[0.019362,1594],[0.019360,620],[0.019370,1118],[0.019377,889],[0.019383,535],[0.019392,702],[0.019400,909],[0.019407,785],[0.019332,1491],[0.019341,1243],[0.019353,993],[0.019319,453],[0.019418,660]]
};
const panel_7_1 = {
  outer:[[5.572e-4,80],[5.594e-4,162],[5.657e-4,204],[5.668e-4,224],[5.679e-4,204],[5.724e-4,224],[5.741e-4,391],[5.764e-4,204],[5.832e-4,212],[5.843e-4,329],[5.854e-4,184],[5.899e-4,122],[5.911e-4,5],[5.572e-4,5]],
  mid:[[5.617e-4,5],[5.617e-4,100],[5.634e-4,130],[5.837e-4,130],[5.849e-4,5]],
  inner:[[[5.668e-4,5],[5.668e-4,100],[5.696e-4,100],[5.696e-4,5]],[[5.769e-4,5],[5.769e-4,80],[5.803e-4,80],[5.803e-4,5]]],
  cells:[[5.673e-4,42,0],[5.717e-4,42,1],[5.744e-4,42,1],[5.784e-4,42,1]],
  islands:[[5.741e-4,553]],
  dots:[[5.634e-4,876],[5.665e-4,1126],[5.693e-4,752],[5.720e-4,1375],[5.732e-4,1001],[5.760e-4,702],[5.772e-4,1126],[5.799e-4,1549],[5.811e-4,876],[5.831e-4,628],[5.850e-4,1051],[5.705e-4,503],[5.791e-4,503],[5.890e-4,752],[5.654e-4,553]]
};
const panel_7_2 = {
  outer:[[1.489,80],[1.497,184],[1.510,204],[1.517,204],[1.520,286],[1.526,286],[1.533,453],[1.539,329],[1.546,371],[1.547,204],[1.555,371],[1.562,391],[1.564,204],[1.573,162],[1.578,5],[1.489,5]],
  mid:[[1.502,5],[1.504,130],[1.562,130],[1.564,5]],
  inner:[[[1.517,5],[1.517,100],[1.526,100],[1.526,5]],[[1.534,5],[1.534,100],[1.559,100],[1.559,5]]],
  cells:[[1.521,42,0],[1.529,42,1],[1.542,42,1],[1.553,42,1]],
  islands:[[1.521,600]],
  dots:[[1.513,876],[1.519,1126],[1.525,1375],[1.530,1001],[1.536,752],[1.542,1200],[1.547,1449],[1.550,876],[1.556,702],[1.559,1051],[1.565,951],[1.570,553],[1.508,628],[1.527,1624]]
};
const panel_7_3 = {
  outer:[[1.129,100],[1.138,184],[1.152,204],[1.156,224],[1.161,204],[1.170,224],[1.176,371],[1.180,224],[1.185,349],[1.190,354],[1.194,204],[1.198,105],[1.200,5],[1.129,5]],
  mid:[[1.138,5],[1.139,105],[1.147,142],[1.186,142],[1.190,80],[1.191,5]],
  inner:[[1.155,5],[1.155,80],[1.179,80],[1.179,5]],
  cells:[[1.163,42,0],[1.172,42,1],[1.156,42,1]],
  islands:[[1.172,453]],
  dots:[[1.155,752],[1.163,1001],[1.167,1375],[1.171,876],[1.175,1126],[1.179,702],[1.180,1549],[1.185,951],[1.189,628],[1.159,553],[1.193,1051]]
};
const panel_7_4 = {
  outer:[[[26,117],[28,159],[61,159],[76,137],[81,75],[81,5],[26,5]],[[19,316],[21,279],[26,179],[24,154],[19,229]]],
  mid:[[29,5],[29,105],[34,130],[69,130],[74,105],[75,5]],
  inner:[[42,5],[42,92],[62,92],[62,5]],
  cells:[[43,42,0],[51,42,0],[60,42,1],[36,42,1]],
  islands:[],
  dots:[[8,1800],[8,1750],[8,1620],[8,1500],[8,1400],[9,1300],[9,1200],[10,1050],[11,980],[12,900],[13,830],[14,760],[15,700],[17,630],[18,560],[19,500],[21,450],[22,400],[24,360]]
};
const panel_7_5 = {
  outer:[[1.63e-8,5],[1.68e-8,137],[2.20e-8,242],[2.49e-8,261],[2.78e-8,451],[3.01e-8,326],[3.24e-8,199],[4.45e-8,159],[4.60e-8,5]],
  mid:[[1.96e-8,5],[2.05e-8,117],[2.46e-8,167],[3.28e-8,159],[3.69e-8,117],[3.77e-8,5]],
  inner:[[2.42e-8,5],[2.42e-8,92],[3.24e-8,92],[3.24e-8,5]],
  cells:[[2.54e-8,42,0],[2.79e-8,42,0],[3.07e-8,42,1]],
  islands:[],
  dots:[[2.33e-8,752],[2.58e-8,1001],[2.66e-8,1375],[2.46e-8,827],[2.79e-8,1200],[2.91e-8,901],[2.66e-8,1599],[2.17e-8,553],[3.16e-8,628],[2.99e-8,752],[2.05e-8,752],[2.87e-8,553],[3.28e-8,503]]
};
const panel_7_6 = {
  outer:[[2.74e-5,5],[2.85e-5,75],[3.78e-5,284],[4.19e-5,242],[4.51e-5,421],[4.82e-5,284],[5.24e-5,388],[5.76e-5,199],[7.84e-5,159],[8.20e-5,5]],
  mid:[[3.53e-5,5],[3.60e-5,117],[4.71e-5,167],[5.82e-5,159],[6.57e-5,117],[6.64e-5,5]],
  inner:[[4.34e-5,5],[4.34e-5,92],[5.82e-5,92],[5.82e-5,5]],
  cells:[[4.49e-5,42,0],[5.01e-5,42,1],[5.60e-5,42,1]],
  islands:[],
  dots:[[3.60e-5,951],[4.12e-5,876],[4.34e-5,1126],[4.71e-5,1375],[4.56e-5,802],[4.94e-5,1001],[5.31e-5,752],[5.60e-5,1200],[3.97e-5,702],[5.08e-5,1624],[6.05e-5,628],[3.38e-5,603]]
};
const panels2D = [
  [1,0,panel_1_0],
  [2,0,panel_2_0],[2,1,panel_2_1],
  [3,0,panel_3_0],[3,1,panel_3_1],[3,2,panel_3_2],
  [4,0,panel_4_0],[4,1,panel_4_1],[4,2,panel_4_2],[4,3,panel_4_3],
  [5,0,panel_5_0],[5,1,panel_5_1],[5,2,panel_5_2],[5,3,panel_5_3],[5,4,panel_5_4],
  [6,0,panel_6_0],[6,1,panel_6_1],[6,2,panel_6_2],[6,3,panel_6_3],[6,4,panel_6_4],[6,5,panel_6_5],
  [7,0,panel_7_0],[7,1,panel_7_1],[7,2,panel_7_2],[7,3,panel_7_3],[7,4,panel_7_4],[7,5,panel_7_5],[7,6,panel_7_6]
];

// ---------------- STYLE ----------------
const dotOpacity = {'2,1':0.3, '6,5':0.3, '7,4':0.5};
const fillColours = {outer:'#e6e6e6', mid:'#bdbdbd', inner:'#8c8c8c'};

// ---------------- RENDERING ----------------
const fig = document.getElementById('fig');
const NV = variables.length;
const PANEL = 200, STEP = 210, X0 = 100, Y0 = 40;
const FONT_FAMILY = "'DejaVu Sans', sans-serif";
const FS = 13.9;
const mctx = document.createElement('canvas').getContext('2d');
mctx.font = FS + "px 'DejaVu Sans'";
function labelShift(k){
  const ws = tickLabels[k].map(t => mctx.measureText(t).width);
  return 0.354 * ws.reduce((a,b)=>a+b,0) / ws.length - 2;
}
const framePlugin = {
  id:'frame',
  afterDatasetsDraw(chart){
    const a = chart.chartArea, ctx = chart.ctx;
    ctx.save(); ctx.strokeStyle = '#000'; ctx.lineWidth = 1.1;
    ctx.strokeRect(a.left, a.top, a.right - a.left, a.bottom - a.top);
    ctx.restore();
  }
};
function polys(a){ if(!a || !a.length) return []; return (typeof a[0][0] === 'number') ? [a] : a; }
function closed(poly){ const pts = poly.map(p => ({x:p[0], y:p[1]})); pts.push({x:poly[0][0], y:poly[0][1]}); return pts; }

function panelDatasets(p, key){
  const ds = [];
  const alpha = dotOpacity[key] || 0.2;
  if (p.dots && p.dots.length) ds.push({data:p.dots.map(d=>({x:d[0],y:d[1]})), showLine:false, pointRadius:1.4, pointBackgroundColor:'rgba(0,0,0,'+alpha+')', pointBorderWidth:0, order:20, clip:0});
  const levels = [['outer',19],['mid',18],['inner',17]];
  for (const [lev,ord] of levels){
    for (const poly of polys(p[lev])){
      ds.push({data:closed(poly), fill:'shape', backgroundColor:fillColours[lev], borderColor:'rgba(0,0,0,0)', borderWidth:1, pointRadius:0, tension:0, order:ord, clip:0});
      ds.push({data:closed(poly), fill:false, borderColor:'#000', borderWidth:2, pointRadius:0, tension:0, order:10, clip:0});
    }
  }
  if (p.cells && p.cells.length) ds.push({data:p.cells.map(c=>({x:c[0],y:c[1]})), showLine:false, pointStyle:'rect', pointRadius:7.07, pointBorderWidth:0, pointBackgroundColor:p.cells.map(c=>c[2]===0?'#1c1c1c':'#5a5a5a'), order:16, clip:0});
  if (p.islands && p.islands.length) ds.push({data:p.islands.map(c=>({x:c[0],y:c[1]})), showLine:false, pointStyle:'rectRot', pointRadius:4.3, pointBorderWidth:1.8, pointBorderColor:'#000', pointBackgroundColor:'#9a9a9a', order:5, clip:0});
  return ds;
}

function addChart(r, c, datasets, yMin, yMax, isHist){
  const showX = (r === NV - 1);
  const showY = (c === 0 && !isHist);
  const L = showY ? 100 : 8;
  const B = showX ? 100 : (showY ? 60 : 8);
  const R = showX ? 40 : 5;
  const T = showY ? 14 : 5;
  const left = X0 + STEP*c - L, top = Y0 + STEP*r - T;
  const W = L + PANEL + R, H = T + PANEL + B;
  const cv = document.createElement('canvas');
  cv.width = W; cv.height = H;
  cv.style.left = left + 'px'; cv.style.top = top + 'px';
  cv.style.width = W + 'px'; cv.style.height = H + 'px';
  fig.appendChild(cv);
  const font = {family:FONT_FAMILY, size:FS};
  const yScale = isHist ? {
      type:'linear', min:yMin, max:yMax,
      afterFit:s=>{s.width=L; s.paddingTop=0; s.paddingBottom=0; s.paddingLeft=0; s.paddingRight=0;},
      ticks:{display:false}, grid:{display:false}, border:{display:false}, title:{display:false}
    } : {
      type:'linear', min:yMin, max:yMax,
      afterBuildTicks:s=>{ s.ticks = tickValues[r].map(v=>({value:v})); },
      afterFit:s=>{s.width=L; s.paddingTop=0; s.paddingBottom=0; s.paddingLeft=0; s.paddingRight=0;},
      ticks:{display:showY, autoSkip:false, minRotation:45, maxRotation:45, font, color:'#000', padding:10, labelOffset:3, callback:(v,i)=>tickLabels[r][i]},
      grid:{display:true, drawOnChartArea:false, drawTicks:true, tickLength:5, tickWidth:1.1, tickColor:'#000'},
      border:{display:false},
      title:{display:showY, text:variables[r], font, color:'#000', padding:{top:24.7, bottom:0}}
    };
  new Chart(cv, {
    type:'line',
    data:{datasets},
    options:{
      responsive:false, animation:false, events:[],
      layout:{padding:{top:T, right:R, left:0, bottom:0}},
      plugins:{legend:{display:false}, tooltip:{enabled:false}},
      scales:{
        x:{type:'linear', min:axisMin[c], max:axisMax[c],
          afterBuildTicks:s=>{ s.ticks = tickValues[c].map(v=>({value:v})); },
          afterFit:s=>{s.height=B; s.paddingLeft=0; s.paddingRight=0; s.paddingTop=0; s.paddingBottom=0;},
          ticks:{display:showX, autoSkip:false, minRotation:45, maxRotation:45, font, color:'#000', padding:6.7, labelOffset:labelShift(c), callback:(v,i)=>tickLabels[c][i]},
          grid:{display:true, drawOnChartArea:false, drawTicks:true, tickLength:5, tickWidth:1.1, tickColor:'#000'},
          border:{display:false},
          title:{display:showX, text:variables[c], font, color:'#000', padding:{top:0, bottom:23.7}}
        },
        y:yScale
      }
    },
    plugins:[framePlugin]
  });
}

// histograms on the diagonal
for (let k = 0; k < NV; k++){
  const counts = histCounts[k];
  const nb = counts.length;
  const edges = [];
  for (let i = 0; i <= nb; i++) edges.push(axisMin[k] + (axisMax[k] - axisMin[k]) * i / nb);
  const pts = [{x:edges[0], y:0}];
  for (let i = 0; i < nb; i++) pts.push({x:edges[i], y:counts[i]});
  pts.push({x:edges[nb], y:counts[nb-1]});
  pts.push({x:edges[nb], y:0});
  const ds = [{data:pts, stepped:'before', borderColor:'#000', borderWidth:1.6, pointRadius:0, fill:false, clip:0}];
  addChart(k, k, ds, 0, 1.1 * Math.max(...counts), true);
}
// 2D panels
for (const [r, c, p] of panels2D){
  addChart(r, c, panelDatasets(p, r + ',' + c), axisMin[r], axisMax[r], false);
}

// titles over the histograms
for (let k = 0; k < NV; k++){
  const d = document.createElement('div');
  d.className = 'ttl';
  d.style.left = (X0 + STEP*k + PANEL/2) + 'px';
  d.style.top = (Y0 + STEP*k - 8.6 - 15.77) + 'px';
  d.innerHTML = variables[k] + ' = ' + titleCentral[k] +
    '<span class="ss"><span class="sup">+' + titlePlus[k] + '</span><span class="sub">\u2212' + titleMinus[k] + '</span></span>';
  fig.appendChild(d);
}
// scientific offset texts
for (let k = 0; k < NV; k++){
  if (!offsetLabels[k]) continue;
  const dy = document.createElement('div');
  dy.className = 'off';
  dy.textContent = offsetLabels[k];
  dy.style.left = X0 + 'px';
  dy.style.top = (Y0 + STEP*k - 4 - 12.81) + 'px';
  fig.appendChild(dy);
  const dx = document.createElement('div');
  dx.className = 'off';
  dx.textContent = offsetLabels[k];
  dx.style.left = (X0 + STEP*k + PANEL) + 'px';
  dx.style.transform = 'translateX(-100%)';
  dx.style.top = (Y0 + STEP*(NV-1) + PANEL + (k === 5 ? 42 : 51) - 12.81) + 'px';
  fig.appendChild(dx);
}
</script></body></html>
